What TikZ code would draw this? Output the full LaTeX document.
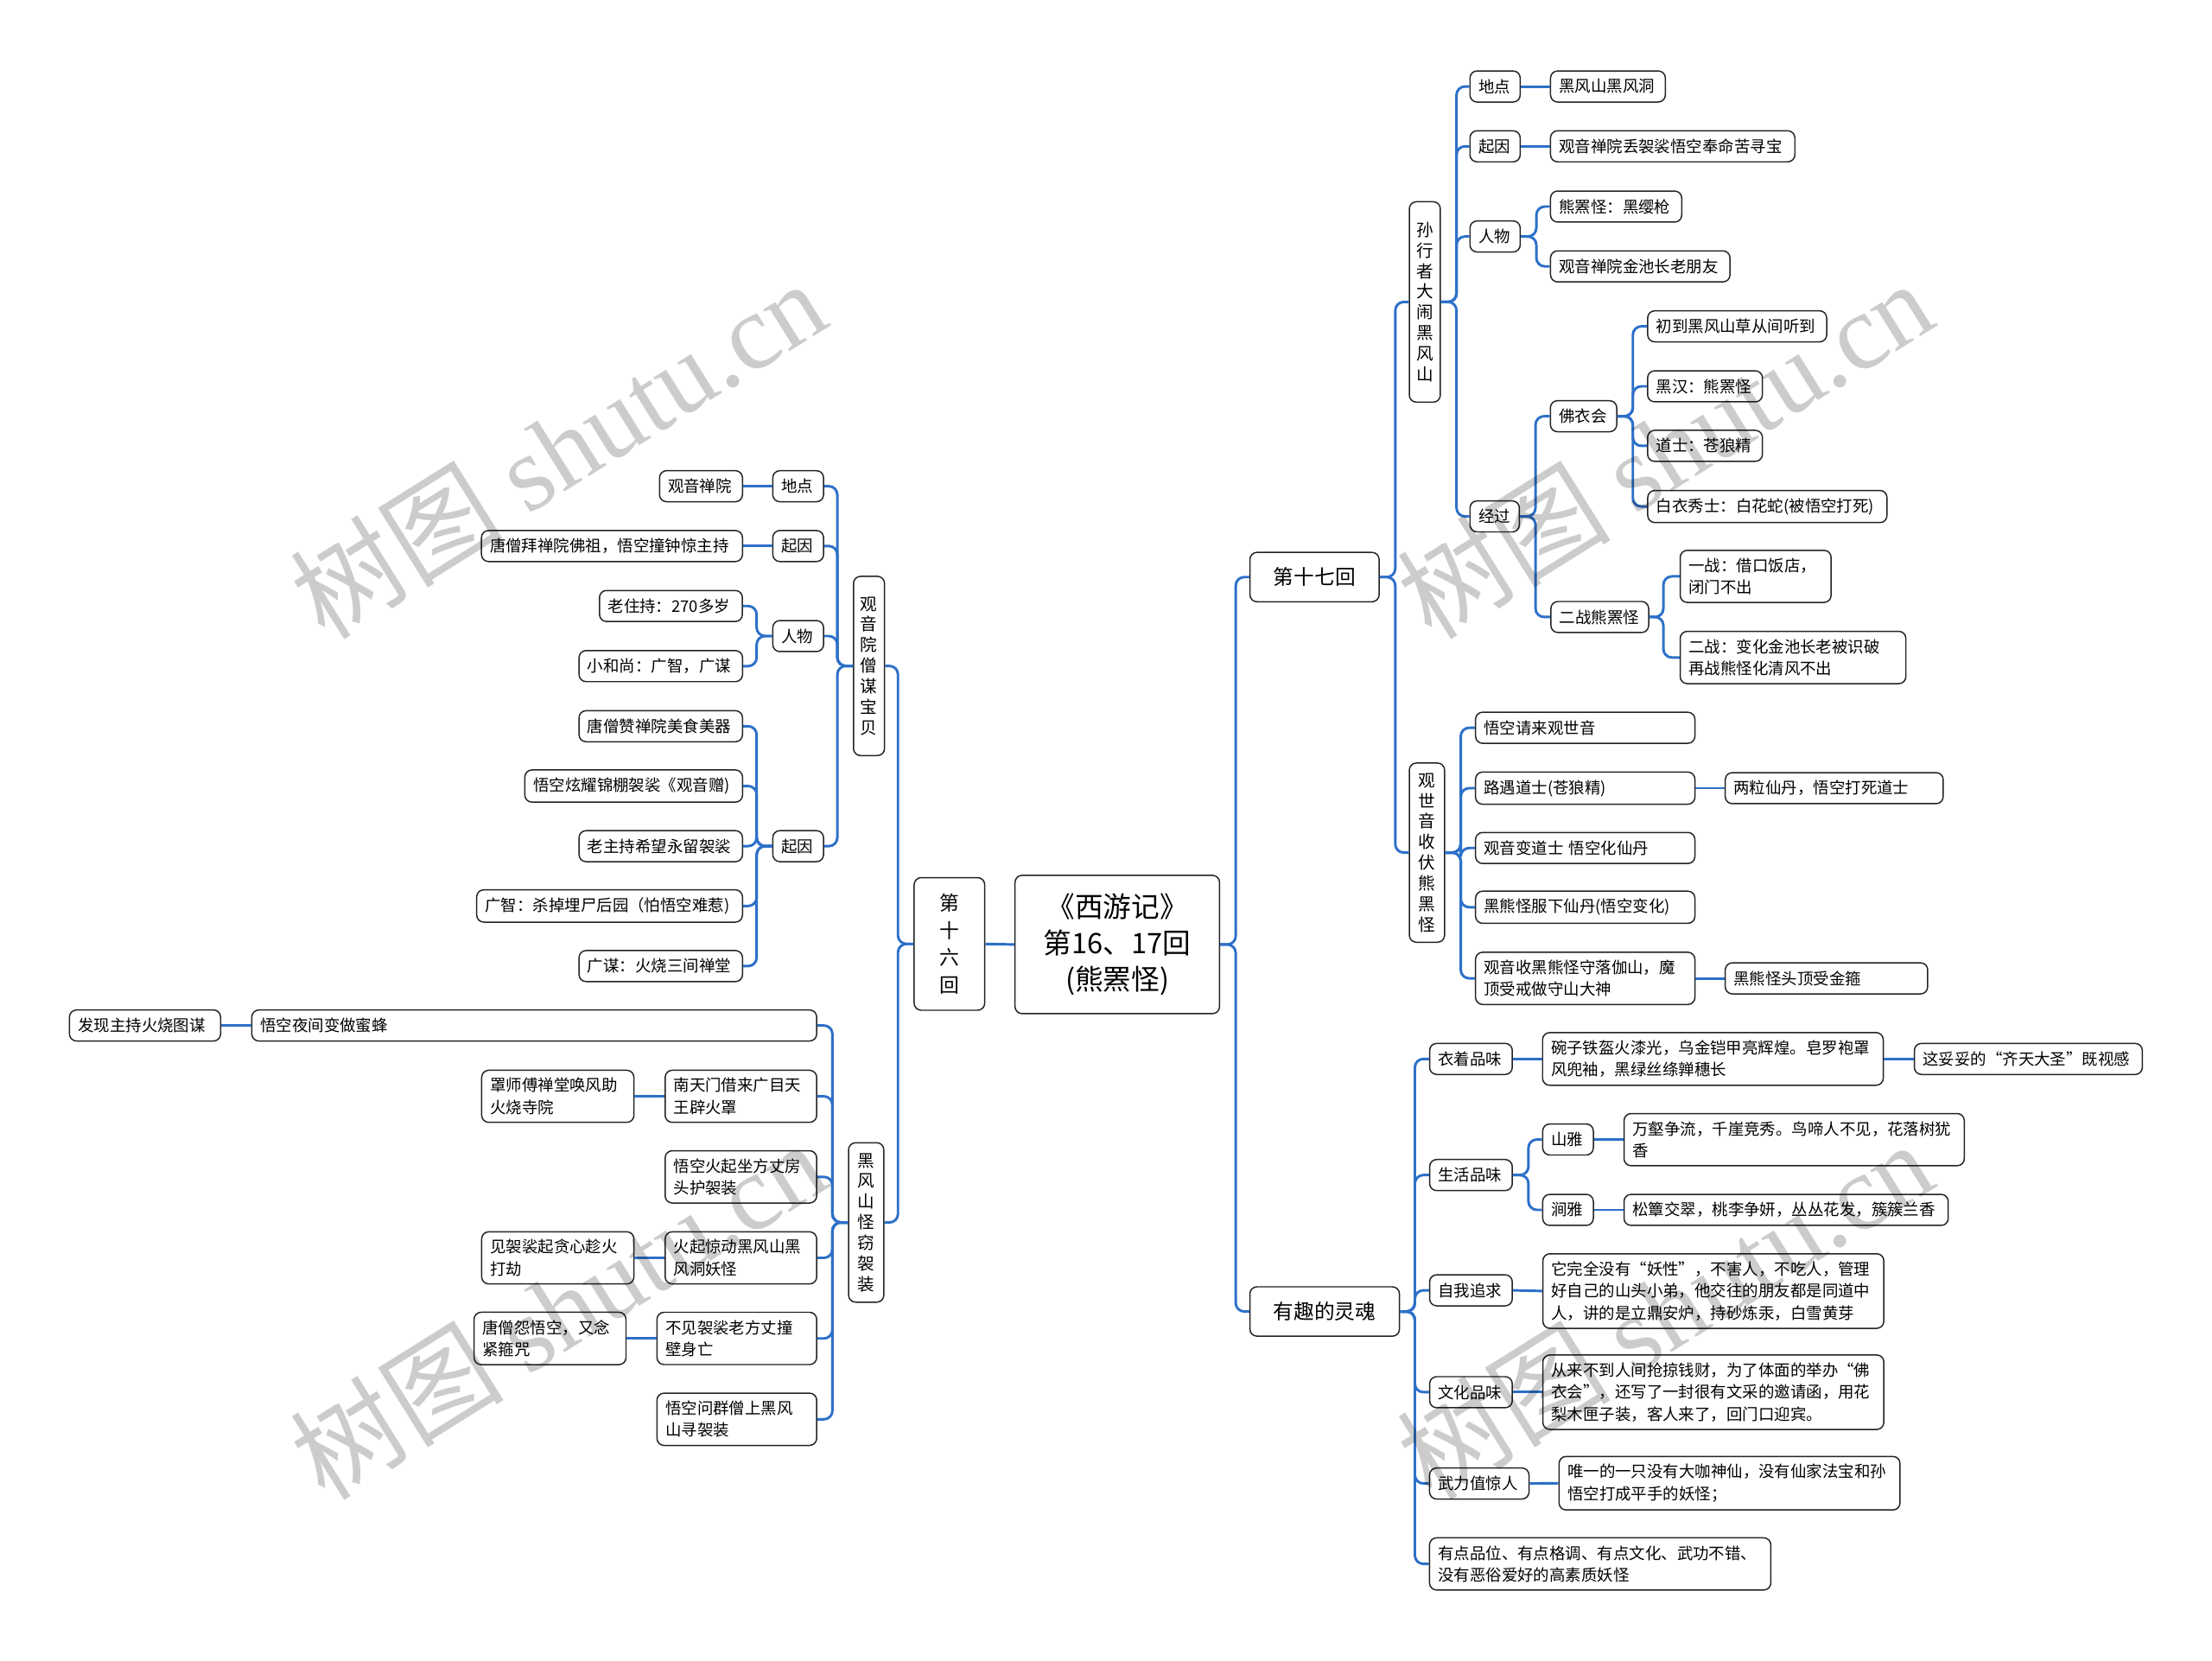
\documentclass[tikz,border=0pt]{standalone}
\usepackage{fontspec}
\setmainfont{Noto Sans CJK SC}
\newfontfamily\wmfont{Liberation Serif}
\usepackage{tikz}
\definecolor{LinkBlue}{RGB}{45,112,200}
\definecolor{BoxLine}{RGB}{35,35,35}
\tikzset{
  root/.style={draw=BoxLine,line width=0.9pt,rounded corners=5pt,fill=white,minimum width=145pt,minimum height=98pt,align=center,font=\fontsize{20}{26}\selectfont},
  chap/.style={draw=BoxLine,line width=0.9pt,rounded corners=5pt,fill=white,minimum width=#1pt,minimum height=35pt,font=\fontsize{14.5}{18}\selectfont},
  vchap/.style={draw=BoxLine,line width=0.9pt,rounded corners=5pt,fill=white,minimum width=50pt,minimum height=94pt,text width=14pt,inner xsep=0pt,align=center,font=\fontsize{14}{19.4}\selectfont},
  vtopic/.style={draw=BoxLine,line width=0.9pt,rounded corners=5pt,fill=white,minimum height=#1pt,text width=12pt,inner xsep=5pt,align=center,font=\fontsize{12}{14.6}\selectfont},
  item/.style={draw=BoxLine,line width=0.9pt,rounded corners=5pt,fill=white,text width=#1pt,inner xsep=6pt,inner ysep=5.5pt,minimum height=22pt,align=left,font=\fontsize{11.3}{15.5}\selectfont},
  link/.style={draw=LinkBlue,line width=1.8pt,rounded corners=6pt},
  wmark/.style={text=black,opacity=0.2,rotate=32,font=\fontsize{76}{80}\selectfont}
}
\begin{document}
\begin{tikzpicture}[x=1pt,y=-1pt]
\useasboundingbox (0,0) rectangle (1568,1177);
\node[root] (root) at (792,669.4) {《西游记》\\第16、17回\\(熊罴怪)};
\node[vchap] (d16) at (673,669) {第\\十\\六\\回};
\node[chap=91.6] (d17) at (931.8,409) {第十七回};
\node[chap=106] (qu) at (939,929.5) {有趣的灵魂};

% 第十六回
\node[vtopic=127] (ga) at (616,472) {观\\音\\院\\僧\\谋\\宝\\贝};
\node[item=24] (gadd) at (565.8,344.6) {地点};
\node[item=46.8] (gadda) at (496.9,344.6) {观音禅院};
\node[item=24] (gaqy) at (565.8,387) {起因};
\node[item=173] (gaqya) at (433.8,387) {唐僧拜禅院佛祖，悟空撞钟惊主持};
\node[item=24] (garw) at (565.8,450.8) {人物};
\node[item=89.3] (rwa) at (475.6,429.5) {老住持：270多岁};
\node[item=103.9] (rwb) at (468.4,472.1) {小和尚：广智，广谋};
\node[item=24] (gaqz) at (565.8,599.7) {起因};
\node[item=103.9] (qa) at (468.4,514.7) {唐僧赞禅院美食美器};
\node[item=142.3] (qb) at (449.2,557.1) {悟空炫耀锦棚袈裟《观音赠)};
\node[item=103.9] (qc) at (468.4,599.7) {老主持希望永留袈裟};
\node[item=176.4] (qd) at (432.1,642.1) {广智：杀掉埋尸后园（怕悟空难惹)};
\node[item=103.9] (qe) at (468.4,684.7) {广谋：火烧三间禅堂};

\node[vtopic=113,minimum width=25pt] (hf) at (614,866.4) {黑\\风\\山\\怪\\窃\\袈\\装};
\node[item=388.4] (h1) at (378.7,726.8) {悟空夜间变做蜜蜂};
\node[item=95.1] (h1a) at (102.8,726.8) {发现主持火烧图谋};
\node[item=95.4] (h2) at (525.2,777) {南天门借来广目天\\王辟火罩};
\node[item=95.9] (h2a) at (395.4,777) {罩师傅禅堂唤风助\\火烧寺院};
\node[item=95.4] (h3) at (525.2,834.1) {悟空火起坐方丈房\\头护袈装};
\node[item=95.4] (h4) at (525.2,891.5) {火起惊动黑风山黑\\风洞妖怪};
\node[item=95.9] (h4a) at (395.4,891.5) {见袈裟起贪心趁火\\打劫};
\node[item=101.2] (h5) at (522.3,948.6) {不见袈裟老方丈撞\\壁身亡};
\node[item=95.7] (h5a) at (389.9,948.6) {唐僧怨悟空，又念\\紧箍咒};
\node[item=101.2] (h6) at (522.3,1005.9) {悟空问群僧上黑风\\山寻袈装};

% 第十七回
\node[vtopic=142] (sx) at (1010,214) {孙\\行\\者\\大\\闹\\黑\\风\\山};
\node[item=23.6] (sxdd) at (1059.8,61.3) {地点};
\node[item=69.4] (sxdda) at (1139.8,61.3) {黑风山黑风洞};
\node[item=23.6] (sxqy) at (1059.8,103.7) {起因};
\node[item=161.2] (sxqya) at (1185.7,103.7) {观音禅院丢袈裟悟空奉命苦寻宝};
\node[item=23.6] (sxrw) at (1059.8,167.6) {人物};
\node[item=81] (rw1) at (1145.6,146.4) {熊罴怪：黑缨枪};
\node[item=115.2] (rw2) at (1162.7,188.8) {观音禅院金池长老朋友};
\node[item=23] (sxjg) at (1059.5,366) {经过};
\node[item=35] (fyh) at (1122.5,295) {佛衣会};
\node[item=114.9] (fy1) at (1231.4,231.3) {初到黑风山草从间听到};
\node[item=69.4] (fy2) at (1208.6,273.8) {黑汉：熊罴怪};
\node[item=69.4] (fy3) at (1208.6,316) {道士：苍狼精};
\node[item=157.6] (fy4) at (1252.8,359) {白衣秀士：白花蛇(被悟空打死)};
\node[item=57.3] (ez) at (1134,437.3) {二战熊罴怪};
\node[item=95] (ez1) at (1244.5,408.5) {一战：借口饭店，\\闭门不出};
\node[item=148] (ez2) at (1271,466) {二战：变化金池长老被识破\\再战熊怪化清风不出};

\node[vtopic=127,minimum width=25pt] (gs) at (1011.5,604.3) {观\\世\\音\\收\\伏\\熊\\黑\\怪};
\node[item=143.5] (g1) at (1123.7,515.8) {悟空请来观世音};
\node[item=143.5] (g2) at (1123.7,558.6) {路遇道士(苍狼精)};
\node[item=142.5] (g2a) at (1300.2,558.6) {两粒仙丹，悟空打死道士};
\node[item=143.5] (g3) at (1123.7,601) {观音变道士 悟空化仙丹};
\node[item=143.5] (g4) at (1123.7,643) {黑熊怪服下仙丹(悟空变化)};
\node[item=143.5] (g5) at (1123.7,693.4) {观音收黑熊怪守落伽山，魔\\顶受戒做守山大神};
\node[item=131.5] (g5a) at (1294.7,693.4) {黑熊怪头顶受金箍};

% 有趣的灵魂
\node[item=46.6] (q1) at (1042.7,750.5) {衣着品味};
\node[item=229.5] (q1a) at (1214.2,750.5) {碗子铁盔火漆光，乌金铠甲亮辉煌。皂罗袍罩\\风兜袖，黑绿丝绦亸穗长};
\node[item=149.6] (q1b) at (1437.8,750.5) {这妥妥的“齐天大圣”既视感};
\node[item=46.6] (q2) at (1042.7,832.8) {生活品味};
\node[item=23.9] (sy) at (1111.5,807.6) {山雅};
\node[item=229.2] (sya) at (1271.8,807.7) {万壑争流，千崖竞秀。鸟啼人不见，花落树犹\\香};
\node[item=23.9] (jy) at (1111.5,857.5) {涧雅};
\node[item=217.8] (jya) at (1266.1,857.5) {松簟交翠，桃李争妍，丛丛花发，簇簇兰香};
\node[item=46.6] (q3) at (1042.7,914.5) {自我追求};
\node[item=229.7] (q3a) at (1214.5,915) {它完全没有“妖性”，不害人，不吃人，管理\\好自己的山头小弟，他交往的朋友都是同道中\\人，讲的是立鼎安炉，持砂炼汞，白雪黄芽};
\node[item=46.6] (q4) at (1042.7,986.7) {文化品味};
\node[item=229.7] (q4a) at (1214.5,986.7) {从来不到人间抢掠钱财，为了体面的举办“佛\\衣会”，还写了一封很有文采的邀请函，用花\\梨木匣子装，客人来了，回门口迎宾。};
\node[item=58.5] (q5) at (1048.6,1051.4) {武力值惊人};
\node[item=229.7] (q5a) at (1226,1051.2) {唯一的一只没有大咖神仙，没有仙家法宝和孙\\悟空打成平手的妖怪；};
\node[item=229.9] (q6) at (1134.3,1108.4) {有点品位、有点格调、有点文化、武功不错、\\没有恶俗爱好的高素质妖怪};

% links right
\draw[link](root.east)--++(11,0)|-(d17.west);\draw[link](root.east)--++(11,0)|-(qu.west);
\draw[link](d17.east)--++(11,0)|-(sx.west);\draw[link](d17.east)--++(11,0)|-(gs.west);
\draw[link](sx.east)--++(11,0)|-(sxdd.west);\draw[link](sx.east)--++(11,0)|-(sxqy.west);\draw[link](sx.east)--++(11,0)|-(sxrw.west);\draw[link](sx.east)--++(11,0)|-(sxjg.west);
\draw[link](sxdd.east)--(sxdda.west);\draw[link](sxqy.east)--(sxqya.west);
\draw[link](sxrw.east)--++(11,0)|-(rw1.west);\draw[link](sxrw.east)--++(11,0)|-(rw2.west);
\draw[link](sxjg.east)--++(11,0)|-(fyh.west);\draw[link](sxjg.east)--++(11,0)|-(ez.west);
\draw[link](fyh.east)--++(11,0)|-(fy1.west);\draw[link](fyh.east)--++(11,0)|-(fy2.west);\draw[link](fyh.east)--++(11,0)|-(fy3.west);\draw[link](fyh.east)--++(11,0)|-(fy4.west);
\draw[link](ez.east)--++(10,0)|-(ez1.west);\draw[link](ez.east)--++(10,0)|-(ez2.west);
\draw[link](gs.east)--++(11,0)|-(g1.west);\draw[link](gs.east)--++(11,0)|-(g2.west);\draw[link](gs.east)--++(11,0)|-(g3.west);\draw[link](gs.east)--++(11,0)|-(g4.west);\draw[link](gs.east)--++(11,0)|-(g5.west);
\draw[link](g2.east)--(g2a.west);\draw[link](g5.east)--(g5a.west);
\draw[link](qu.east)--++(10.5,0)|-(q1.west);\draw[link](qu.east)--++(10.5,0)|-(q2.west);\draw[link](qu.east)--++(10.5,0)|-(q3.west);\draw[link](qu.east)--++(10.5,0)|-(q4.west);\draw[link](qu.east)--++(10.5,0)|-(q5.west);\draw[link](qu.east)--++(10.5,0)|-(q6.west);
\draw[link](q1.east)--(q1a.west);\draw[link](q1a.east)--(q1b.west);
\draw[link](q2.east)--++(11,0)|-(sy.west);\draw[link](q2.east)--++(11,0)|-(jy.west);
\draw[link](sy.east)--(sya.west);\draw[link](jy.east)--(jya.west);
\draw[link](q3.east)--(q3a.west);\draw[link](q4.east)--(q4a.west);\draw[link](q5.east)--(q5a.west);

% links left
\draw[link](root.west)--(d16.east);
\draw[link](d16.west)--++(-11,0)|-(ga.east);\draw[link](d16.west)--++(-11,0)|-(hf.east);
\draw[link](ga.west)--++(-11,0)|-(gadd.east);\draw[link](ga.west)--++(-11,0)|-(gaqy.east);\draw[link](ga.west)--++(-11,0)|-(garw.east);\draw[link](ga.west)--++(-11,0)|-(gaqz.east);
\draw[link](gadd.west)--(gadda.east);\draw[link](gaqy.west)--(gaqya.east);
\draw[link](garw.west)--++(-11,0)|-(rwa.east);\draw[link](garw.west)--++(-11,0)|-(rwb.east);
\draw[link](gaqz.west)--++(-11,0)|-(qa.east);\draw[link](gaqz.west)--++(-11,0)|-(qb.east);\draw[link](gaqz.west)--++(-11,0)|-(qc.east);\draw[link](gaqz.west)--++(-11,0)|-(qd.east);\draw[link](gaqz.west)--++(-11,0)|-(qe.east);
\draw[link](hf.west)--++(-11,0)|-(h1.east);\draw[link](hf.west)--++(-11,0)|-(h2.east);\draw[link](hf.west)--++(-11,0)|-(h3.east);\draw[link](hf.west)--++(-11,0)|-(h4.east);\draw[link](hf.west)--++(-11,0)|-(h5.east);\draw[link](hf.west)--++(-11,0)|-(h6.east);
\draw[link](h1.west)--(h1a.east);\draw[link](h2.west)--(h2a.east);\draw[link](h4.west)--(h4a.east);\draw[link](h5.west)--(h5a.east);

% watermark
\node[wmark] (wm1) at (395,318) {树图 {\wmfont shutu.cn}};
\node[wmark] (wm2) at (1180,318) {树图 {\wmfont shutu.cn}};
\node[wmark] (wm3) at (395,928) {树图 {\wmfont shutu.cn}};
\node[wmark] (wm4) at (1180,928) {树图 {\wmfont shutu.cn}};
\end{tikzpicture}
\end{document}
